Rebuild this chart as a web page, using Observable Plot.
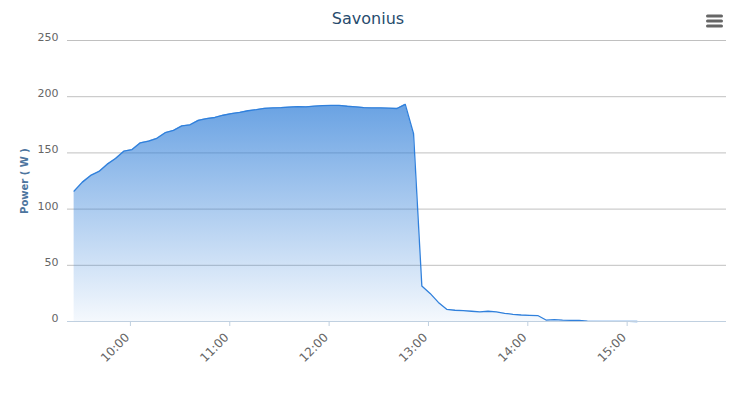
<!DOCTYPE html>
<html><head><meta charset="utf-8">
<script src="https://cdn.jsdelivr.net/npm/d3@7"></script>
<script src="https://cdn.jsdelivr.net/npm/@observablehq/plot@0.6"></script>
<style>
body{margin:0;background:#fff;}
#wrap{position:relative;width:736px;height:410px;font-family:"DejaVu Sans",Verdana,sans-serif;}
#chart{position:absolute;left:0;top:0;}
#title{position:absolute;left:0;width:736px;top:9px;text-align:center;font-size:16px;color:#274b6d;z-index:2;}
#menu{position:absolute;left:706px;top:14px;z-index:2;}
</style></head><body>
<div id="wrap">
<div id="chart"></div>
<div id="title"></div>
<svg id="menu" width="18" height="14"><rect x="0" y="0.5" width="17" height="3" rx="1.5" fill="#666"/><rect x="0" y="5.5" width="17" height="3" rx="1.5" fill="#666"/><rect x="0" y="10.5" width="17" height="3" rx="1.5" fill="#666"/></svg>
</div>
<script>
const title = "Savonius";
const yLabel = "Power ( W )";
const times = ["09:26","09:31","09:36","09:41","09:46","09:51","09:56","10:01","10:06","10:11",
"10:16","10:21","10:26","10:31","10:36","10:41","10:46","10:51","10:56","11:01",
"11:06","11:11","11:16","11:21","11:26","11:31","11:36","11:41","11:46","11:51",
"11:56","12:01","12:06","12:11","12:16","12:21","12:26","12:31","12:36","12:41",
"12:46","12:51","12:56","13:01","13:06","13:11","13:16","13:21","13:26","13:31",
"13:36","13:41","13:46","13:51","13:56","14:01","14:06","14:11","14:16","14:21",
"14:26","14:31","14:36","14:41","14:46","14:51","14:56","15:01","15:06"];
const power = [116,124,130,133.5,140,145,151.5,153,159,160.5,
163,168,170,174,175,179,180.5,181.5,183.5,185,
186,187.5,188.5,189.7,190,190.3,190.8,191.2,191,191.6,
192,192.2,192.2,191.5,191,190.3,190,190,189.8,189.5,
193.2,167,31.6,25,17,10.8,10,9.6,9.1,8.5,
9.1,8.5,7.3,6.4,5.8,5.5,5.3,1.3,1.6,1.2,
1.0,1.0,0.4,0.2,0.1,0.1,0.1,0.1,0];
const yTicks = [0,50,100,150,200,250];
const xTickLabels = ["10:00","11:00","12:00","13:00","14:00","15:00"];
const xDomainLabels = ["09:22","16:00"];

const toDate = s => { const [h,m] = s.split(":").map(Number); return new Date(Date.UTC(2014,0,1,h,m)); };
const data = times.map((t,i) => ({t: toDate(t), v: power[i]}));

document.getElementById("title").textContent = title;

const svg = Plot.plot({
  width: 736, height: 410,
  marginLeft: 67, marginRight: 10, marginTop: 40, marginBottom: 89,
  style: {fontFamily: "DejaVu Sans, Verdana, sans-serif", fontSize: "11px", background: "transparent"},
  x: {type: "utc", domain: xDomainLabels.map(toDate)},
  y: {domain: [0, 250]},
  marks: [
    Plot.gridY(yTicks, {stroke: "#C0C0C0", strokeOpacity: 1}),
    Plot.areaY(data, {x: "t", y: "v", fill: "url(#areaGrad)"}),
    Plot.lineY(data, {x: "t", y: "v", stroke: "#3080dc", strokeWidth: 1.3}),
    Plot.ruleY([0], {stroke: "#C0D0E0"}),
    Plot.axisY(yTicks, {tickSize: 0, tickPadding: 9, fill: "#666", fontSize: 11, dy: -3, label: null}),
    Plot.axisX(xTickLabels.map(toDate), {tickSize: 5, stroke: "#C0D0E0", text: null, label: null}),
    Plot.axisX(xTickLabels.map(toDate), {tickFormat: d3.utcFormat("%H:%M"), tickRotate: -45, tickSize: 0, tickPadding: 14, dx: -3, stroke: "none", fill: "#666", fontSize: 12, label: null}),
    Plot.text([yLabel], {text: d => d, frameAnchor: "left", rotate: -90, dx: -43, fill: "#4d759e", fontWeight: "bold", fontSize: 10, textAnchor: "middle", lineAnchor: "middle"})
  ]
});
d3.select(svg).insert("defs", ":first-child").html(
  '<linearGradient id="areaGrad" x1="0" y1="0" x2="0" y2="1">' +
  '<stop offset="0" stop-color="#2f7ed8" stop-opacity="0.72"/>' +
  '<stop offset="1" stop-color="#2f7ed8" stop-opacity="0.05"/></linearGradient>');
document.getElementById("chart").appendChild(svg);
</script>
</body></html>
